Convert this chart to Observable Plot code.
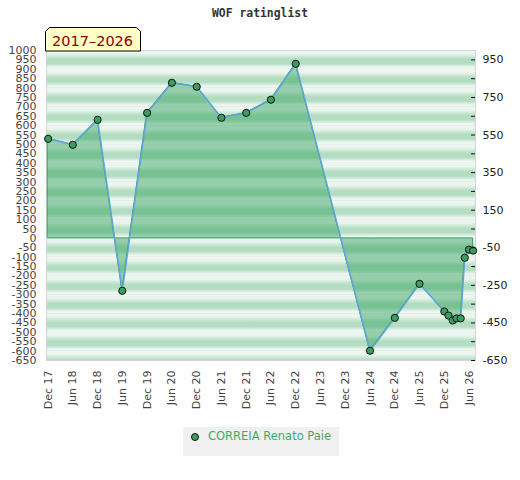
<!DOCTYPE html>
<html>
<head>
<meta charset="utf-8">
<script src="https://cdn.jsdelivr.net/npm/d3@7"></script>
<script src="https://cdn.jsdelivr.net/npm/@observablehq/plot@0.6"></script>
<style>
  body { margin: 0; background: #fff; }
  #wrap { position: relative; width: 520px; height: 480px; background: #fff; }
  #chart { position: absolute; left: 0; top: 0; }
  #legend { position: absolute; left: 183px; top: 427px; width: 156px; height: 29px; background: #f0f0f0; }
  #legend .dot { position: absolute; left: 7.5px; top: 5.5px; width: 6px; height: 6px; border-radius: 50%; background: #3a9e5e; border: 1px solid #111; }
  #legend .lt { position: absolute; left: 25px; top: 2px; font-family: "DejaVu Sans", sans-serif; font-size: 11.5px; line-height: 14px; color: #3daa68; white-space: nowrap; }
</style>
</head>
<body>
<div id="wrap">
  <div id="chart"></div>
  <div id="legend"></div>
</div>
<script>
// ---- data ----
const titleText = "WOF ratinglist";
const periodText = "2017–2026";
const series = ["CORREIA Renato Paie"];
const dates = ["2017-12-01","2018-06-01","2018-12-01","2019-06-01","2019-12-01","2020-06-01",
  "2020-12-01","2021-06-01","2021-12-01","2022-06-01","2022-12-01","2024-06-01","2024-12-01",
  "2025-06-01","2025-12-01","2026-01-01","2026-02-01","2026-03-01","2026-04-01","2026-05-01",
  "2026-06-01","2026-07-01"];
const ratings = [530, 498, 631, -279, 668, 828, 807, 642, 668, 738, 929, -598, -423,
  -242, -389, -411, -437, -426, -426, -103, -60, -65];
const xTicks = ["2017-12-01","2018-06-01","2018-12-01","2019-06-01","2019-12-01","2020-06-01",
  "2020-12-01","2021-06-01","2021-12-01","2022-06-01","2022-12-01","2023-06-01","2023-12-01",
  "2024-06-01","2024-12-01","2025-06-01","2025-12-01","2026-06-01"];
const leftTicks = [1000,950,900,850,800,750,700,650,600,550,500,450,400,350,300,250,200,150,100,50,0,
  -50,-100,-150,-200,-250,-300,-350,-400,-450,-500,-550,-600,-650];
const rightTicks = [950,850,750,650,550,450,350,250,150,50,-50,-150,-250,-350,-450,-550,-650];
const rightLabels = [950,750,550,350,150,-50,-250,-450,-650];
const bandStarts = [900,800,700,600,500,400,300,200,100,0,-100,-200,-300,-400,-500,-600,-700];
const xDomain = ["2017-11-19","2026-07-19"];
const yDomain = [-650, 1000];

const rows = dates.map((d, i) => ({date: new Date(d), rating: ratings[i]}));

const chart = Plot.plot({
  width: 520,
  height: 420,
  marginLeft: 46,
  marginRight: 45,
  marginTop: 50,
  marginBottom: 60,
  style: {fontFamily: "DejaVu Sans", fontSize: "11px", background: "transparent", overflow: "visible"},
  x: {type: "utc", domain: xDomain.map(d => new Date(d))},
  y: {domain: yDomain},
  marks: [
    Plot.rect(bandStarts, {y1: d => d, y2: d => d + 100, fill: "url(#bandGrad)", clip: true}),
    Plot.frame({stroke: "#d4d4d4"}),
    Plot.areaY(rows, {x: "date", y: "rating", fill: "#2f9f5c", fillOpacity: 0.45, stroke: "#3a9d5d", strokeWidth: 1}),
    Plot.lineY(rows, {x: "date", y: "rating", stroke: "#5ea6dc", strokeWidth: 1.5}),
    Plot.dot(rows, {x: "date", y: "rating", r: 3.6, fill: "#3a9e5e", stroke: "#111", strokeWidth: 1}),
    Plot.axisY(leftTicks, {anchor: "left", tickSize: 0, tickPadding: 10, fill: "#444", label: null, tickFormat: d => String(d)}),
    Plot.tickY(rightTicks, {y: d => d, stroke: "#111", insetLeft: 425}),
    Plot.axisY(rightLabels, {anchor: "right", tickSize: 0, tickPadding: 7, fill: "#222", label: null, tickFormat: d => String(d)}),
    Plot.axisX(xTicks.map(d => new Date(d)), {anchor: "bottom", tickSize: 0, tickPadding: 10, tickRotate: -90,
      tickFormat: d3.utcFormat("%b %y"), fill: "#444", label: null})
  ]
});

const svg = d3.select(chart);
svg.insert("defs", ":first-child").html(
  '<linearGradient id="bandGrad" x1="0" y1="0" x2="0" y2="1">' +
  '<stop offset="0" stop-color="#dadada"/>' +
  '<stop offset="0.04" stop-color="#eef6f1"/>' +
  '<stop offset="0.22" stop-color="#e8f4ec"/>' +
  '<stop offset="0.34" stop-color="#cde9d7"/>' +
  '<stop offset="0.5" stop-color="#b3dcc2"/>' +
  '<stop offset="0.72" stop-color="#b5ddc4"/>' +
  '<stop offset="0.84" stop-color="#d6ede0"/>' +
  '<stop offset="0.93" stop-color="#eff7f2"/>' +
  '<stop offset="1" stop-color="#f0f7f2"/>' +
  '</linearGradient>'
);
svg.append("text")
  .attr("x", 260).attr("y", 17).attr("text-anchor", "middle")
  .attr("fill", "#333")
  .style("font", "bold 11.4px 'DejaVu Sans Mono', monospace")
  .text(titleText);
const yb = svg.append("g");
yb.append("path")
  .attr("d", "M45.5,51V31.5L49.5,27.5H136.5L140.5,31.5V51Z")
  .attr("fill", "#ffffc6").attr("stroke", "#000").attr("stroke-width", 1);
yb.append("text")
  .attr("x", 52).attr("y", 45.5)
  .attr("text-anchor", "start")
  .attr("fill", "#8b0000")
  .style("font", "14.5px 'DejaVu Sans', sans-serif")
  .text(periodText);

document.getElementById("chart").appendChild(chart);

const legend = d3.select("#legend");
series.forEach(s => {
  legend.append("span").attr("class", "dot");
  legend.append("span").attr("class", "lt").text(s);
});
</script>
</body>
</html>
